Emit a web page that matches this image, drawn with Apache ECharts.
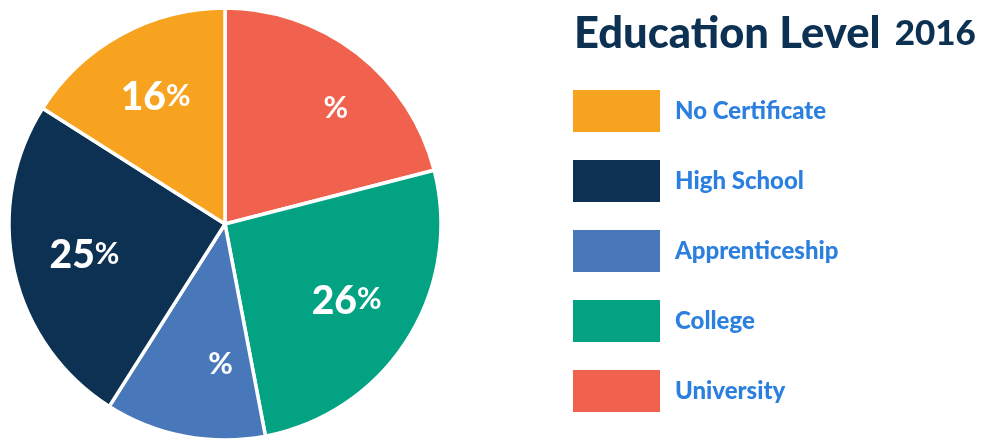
<!DOCTYPE html>
<html>
<head>
<meta charset="utf-8">
<script src="https://cdn.jsdelivr.net/npm/echarts@6/dist/echarts.min.js"></script>
<style>
html,body{margin:0;padding:0;background:#fff;}
#c{width:982px;height:441px;}
</style>
</head>
<body>
<div id="c"></div>
<script>
// Data
const categories = ['University', 'College', 'Apprenticeship', 'High School', 'No Certificate'];
const values = [21, 26, 12, 25, 16];
const valueShown = [false, true, false, true, true];
const legendOrder = ['No Certificate', 'High School', 'Apprenticeship', 'College', 'University'];
const titleText = 'Education Level';
const titleYear = '2016';

// Styles
const sliceColors = ['#F0614E', '#02A283', '#4878BA', '#0C3152', '#F8A31F'];
const FONT = 'Lato';

const chart = echarts.init(document.getElementById('c'));
const pieData = categories.map((n, i) => ({ name: n, value: values[i], itemStyle: { color: sliceColors[i] } }));
const labelData = categories.map((n, i) => ({ name: n, value: values[i] }));

chart.setOption({
  animation: false,
  title: {
    text: '{a|' + titleText + '}{b|' + titleYear + '}',
    left: 569,
    top: 7,
    textStyle: {
      rich: {
        a: { fontFamily: FONT, fontWeight: 900, fontSize: 43.5, color: '#0C3152' },
        b: { fontFamily: FONT, fontWeight: 900, fontSize: 35, color: '#0C3152', padding: [0, 0, 0, 14] }
      }
    }
  },
  legend: {
    data: legendOrder,
    orient: 'vertical',
    left: 571,
    top: 88,
    padding: 0,
    icon: 'rect',
    itemWidth: 89,
    itemHeight: 44,
    itemGap: 24,
    selectedMode: false,
    textStyle: {
      fontFamily: FONT,
      fontWeight: 900,
      fontSize: 24,
      color: '#2B7FDF',
      padding: [3, 0, 0, 9]
    }
  },
  series: [
    {
      type: 'pie',
      center: [225, 224],
      radius: [0, 216],
      startAngle: 90,
      clockwise: true,
      data: pieData,
      silent: true,
      itemStyle: { borderColor: '#ffffff', borderWidth: 3.5 },
      label: { show: false },
      labelLine: { show: false }
    },
    {
      type: 'pie',
      center: [225, 224],
      radius: [66, 216],
      startAngle: 90,
      clockwise: true,
      data: labelData,
      silent: true,
      legendHoverLink: false,
      itemStyle: { color: 'rgba(0,0,0,0)' },
      labelLine: { show: false },
      label: {
        show: true,
        position: 'inside',
        formatter: function (p) {
          const idx = p.dataIndex;
          return (valueShown[idx] ? '{v|' : '{h|') + p.value + '}{p|%}';
        },
        rich: {
          v: { fontFamily: FONT, fontWeight: 900, fontSize: 39, color: '#ffffff' },
          h: { fontFamily: FONT, fontWeight: 900, fontSize: 39, color: 'rgba(0,0,0,0)' },
          p: { fontFamily: FONT, fontWeight: 'bold', fontSize: 30, color: '#ffffff', padding: [0, 0, 3, 0] }
        }
      }
    }
  ]
});
</script>
</body>
</html>
